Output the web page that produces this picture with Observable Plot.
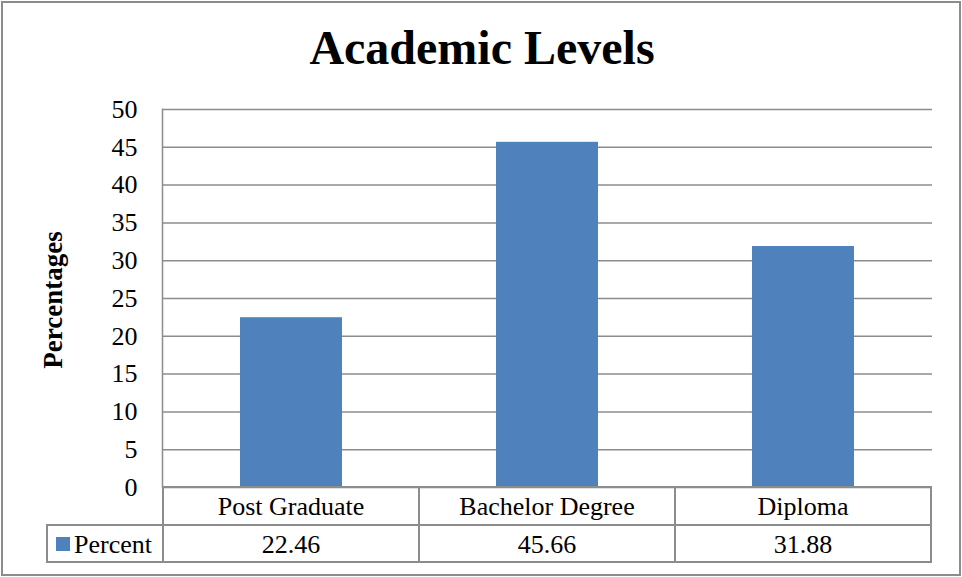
<!DOCTYPE html>
<html><head><meta charset="utf-8">
<script src="https://cdn.jsdelivr.net/npm/d3@7"></script>
<script src="https://cdn.jsdelivr.net/npm/@observablehq/plot@0.6"></script>
<style>
body{margin:0;background:#fff;}
#wrap{position:relative;width:962px;height:577px;font-family:"Liberation Serif","Times New Roman",serif;color:#000;overflow:hidden;}
#frame{position:absolute;left:1px;top:1px;width:960px;height:575px;border:2px solid #8c8c8c;box-sizing:border-box;}
#title{position:absolute;left:0;top:24px;width:964px;text-align:center;font-size:48px;line-height:48px;font-weight:bold;}
#ylabel{position:absolute;left:53px;top:300px;transform:translate(-50%,-50%) rotate(-90deg);font-size:27px;font-weight:bold;white-space:nowrap;line-height:27px;}
#chart{position:absolute;left:0;top:0;}
.ln{position:absolute;background:#8c8c8c;}
.cell{position:absolute;text-align:center;font-size:26px;white-space:nowrap;}
</style></head>
<body><div id="wrap"><div id="frame"></div><div id="chart"></div><div id="title"></div><div id="ylabel"></div></div>
<script>
const chartTitle = "Academic Levels";
const yLabel = "Percentages";
const seriesName = "Percent";
const categories = ["Post Graduate", "Bachelor Degree", "Diploma"];
const percent = [22.46, 45.66, 31.88];
const yTicks = [0, 5, 10, 15, 20, 25, 30, 35, 40, 45, 50];
const barColor = "#4F81BD";

const data = categories.map((c, i) => ({category: c, value: percent[i]}));
const W = 962, H = 577, mL = 162, mR = 30, mT = 109, mB = 90;
const grid = "#8c8c8c";

const chart = Plot.plot({
  width: W, height: H, marginLeft: mL, marginRight: mR, marginTop: mT, marginBottom: mB,
  style: {fontFamily: "'Liberation Serif','Times New Roman',serif", fontSize: "26px", background: "transparent", color: "#000", overflow: "visible"},
  x: {domain: categories, padding: 0, axis: null},
  y: {domain: [0, 50], axis: null},
  marks: [
    Plot.ruleY(yTicks, {stroke: grid, strokeWidth: 1.5, strokeOpacity: 1}),
    Plot.barY(data, {x: "category", y: "value", fill: barColor, insetLeft: 77, insetRight: 77}),
    Plot.axisY(yTicks, {tickSize: 0, tickPadding: 25, fontSize: 26, label: null, fill: "#000"}),
    Plot.frame({anchor: "left", stroke: grid, strokeWidth: 1.5, strokeOpacity: 1})
  ]
});
document.getElementById("chart").appendChild(chart);
document.getElementById("title").textContent = chartTitle;
document.getElementById("ylabel").textContent = yLabel;

const wrap = document.getElementById("wrap");
const xs = chart.scale("x"), ys = chart.scale("y");
const bw = xs.bandwidth;
const yTop = ys.apply(0);            // table top
const rowH1 = 38, rowH2 = 37;
const yMid = yTop + rowH1, yBot = yMid + rowH2;
const legendLeft = 47;
const xLeft = xs.apply(categories[0]);
const xRight = xs.apply(categories[categories.length - 1]) + bw;
function line(x, y, w, h) {
  const d = document.createElement("div");
  d.className = "ln";
  Object.assign(d.style, {left: (x - 0.75) + "px", top: (y - 0.75) + "px", width: (w + 1.5) + "px", height: (h + 1.5) + "px"});
  wrap.appendChild(d);
}
function cell(x, y, w, h, txt) {
  const d = document.createElement("div");
  d.className = "cell";
  Object.assign(d.style, {left: x + "px", top: y + "px", width: w + "px", height: h + "px", lineHeight: h + "px"});
  d.textContent = txt;
  wrap.appendChild(d);
  return d;
}
// horizontal lines
line(xLeft, yTop, xRight - xLeft, 0);
line(legendLeft, yMid, xRight - legendLeft, 0);
line(legendLeft, yBot, xRight - legendLeft, 0);
// vertical lines
line(legendLeft, yMid, 0, rowH2);
categories.forEach((c, i) => {
  const x0 = xs.apply(c);
  line(x0, yTop, 0, rowH1 + rowH2);
  cell(x0, yTop + 1, bw, rowH1, c);
  cell(x0, yMid + 1, bw, rowH2, percent[i].toFixed(2));
});
line(xRight, yTop, 0, rowH1 + rowH2);
// legend key
const sq = document.createElement("div");
Object.assign(sq.style, {position: "absolute", left: "56px", top: (yMid + 12) + "px", width: "14px", height: "14px", background: barColor});
wrap.appendChild(sq);
const lt = cell(74, yMid + 1, 88, rowH2, seriesName);
lt.style.textAlign = "left";
</script></body></html>
